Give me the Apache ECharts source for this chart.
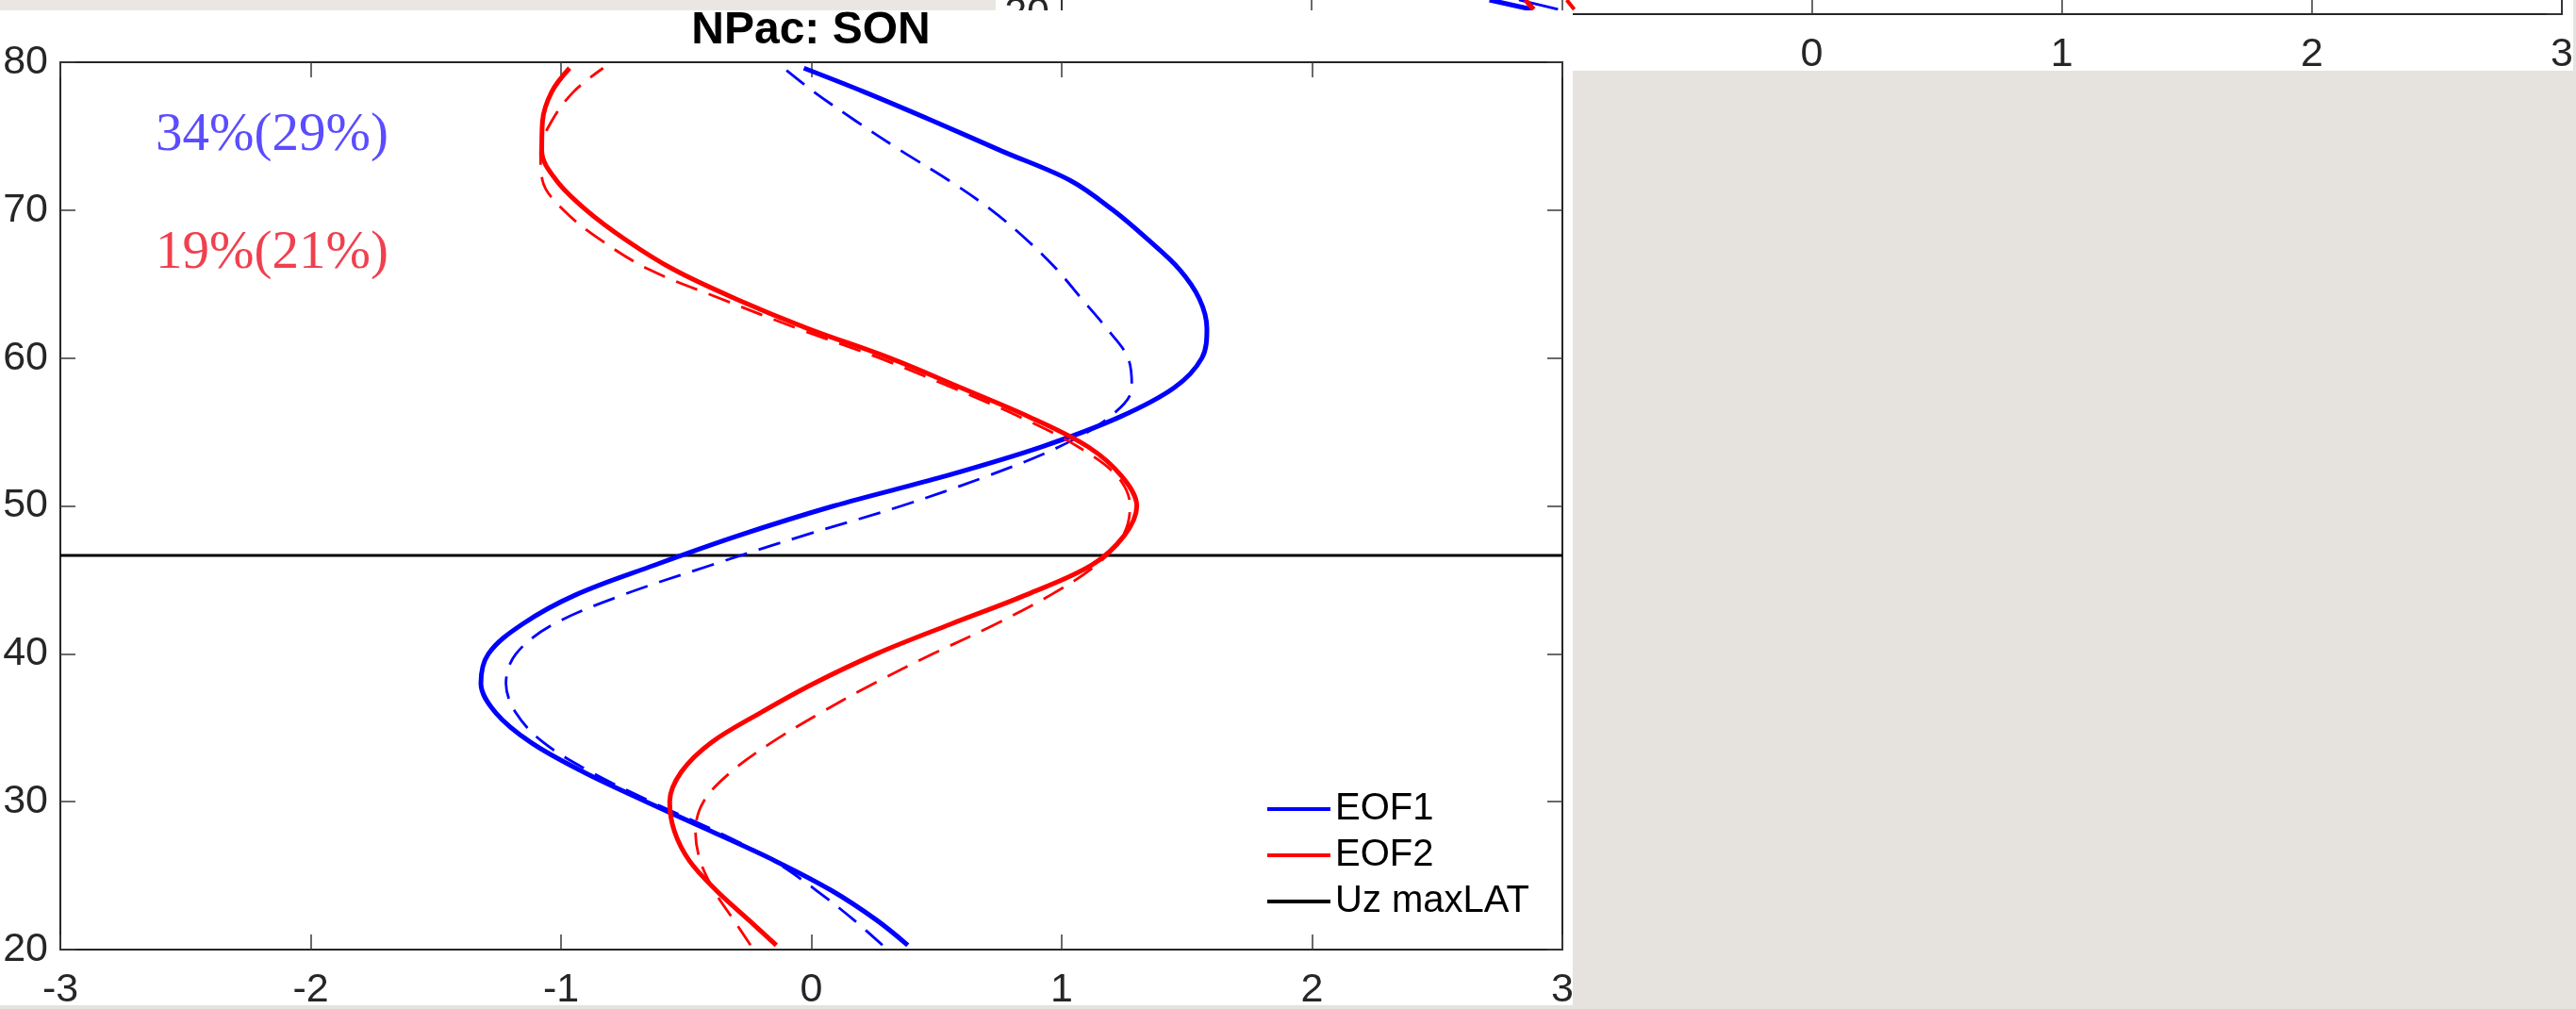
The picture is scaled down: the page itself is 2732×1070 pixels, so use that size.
<!DOCTYPE html>
<html><head><meta charset="utf-8">
<script src="https://cdn.jsdelivr.net/npm/echarts@6/dist/echarts.min.js"></script>
<style>html,body{margin:0;padding:0;background:#e6e3de;}#c{width:2732px;height:1070px;}</style>
</head><body><div id="c"></div>
<script>
// ---- data ----
const lat = [20.3,22,24,26,28,30,32,34,36,38,40,42,44,46,48,50,52,54,56,58,60,62,64,66,68,70,72,74,76,78,79.6];
const eof1Solid  = [0.385,0.26,0.08,-0.145,-0.40,-0.66,-0.91,-1.12,-1.26,-1.32,-1.29,-1.155,-0.94,-0.626,-0.29,0.09,0.53,0.92,1.23,1.45,1.56,1.58,1.55,1.47,1.345,1.205,1.035,0.76,0.49,0.21,-0.03];
const eof1Dashed = [0.284,0.17,0.02,-0.15,-0.38,-0.64,-0.88,-1.07,-1.18,-1.22,-1.18,-1.03,-0.75,-0.40,-0.03,0.36,0.70,0.99,1.19,1.28,1.265,1.18,1.08,0.98,0.86,0.72,0.55,0.36,0.18,0.01,-0.11];
const eof2Solid  = [-0.14,-0.25,-0.38,-0.487,-0.547,-0.566,-0.52,-0.40,-0.205,0.01,0.26,0.555,0.86,1.12,1.25,1.30,1.24,1.105,0.873,0.596,0.313,-0.015,-0.302,-0.552,-0.742,-0.899,-1.018,-1.077,-1.074,-1.037,-0.966];
const eof2Dashed = [-0.243,-0.31,-0.389,-0.444,-0.463,-0.431,-0.322,-0.159,0.036,0.25,0.486,0.735,0.958,1.138,1.245,1.273,1.222,1.065,0.835,0.562,0.272,-0.056,-0.36,-0.65,-0.843,-0.99,-1.074,-1.082,-1.038,-0.95,-0.832];
const uzMaxLat = 46.65;
const xRange = [-3, 3];
const yRange = [20, 80];
const xStep = 1, yStep = 10;
const legendNames = ['EOF1','EOF2','Uz maxLAT'];
const titleText = 'NPac: SON';
const varText = ['34%(29%)', '19%(21%)'];
// fragments of the neighbouring (cropped) panel visible at the top edge
const p2Lat = [20.96, 20.32];
const p2BlueSolid = [-1.289, -1.119];
const p2BlueDashed = [-1.171, -1.015];
const p2RedSolid = [-1.146, -1.112];
const p2RedOther = [-0.98, -0.95];

const FONT = "'Liberation Sans', Arial, Helvetica, sans-serif";
const pairs = (vals, lats) => vals.map((v, i) => [v, lats[i]]);

function xAx(grid, pos, showLabel, z, fmt) {
  return {gridIndex: grid, type: 'value', min: xRange[0], max: xRange[1], interval: xStep, position: pos, z: z,
    axisLine: {show: true, onZero: false, lineStyle: {color: '#262626', width: 2}},
    axisTick: {show: true, inside: true, length: 16, lineStyle: {color: '#3a3a3a', width: 1.5}},
    axisLabel: {show: showLabel, fontSize: 43, color: '#262626', margin: 22, fontFamily: FONT, formatter: fmt},
    splitLine: {show: false}};
}
function yAx(grid, pos, showLabel, z) {
  return {gridIndex: grid, type: 'value', min: yRange[0], max: yRange[1], interval: yStep, position: pos, z: z,
    axisLine: {show: true, onZero: false, lineStyle: {color: '#262626', width: 2}},
    axisTick: {show: true, inside: true, length: 16, lineStyle: {color: '#3a3a3a', width: 1.5}},
    axisLabel: {show: showLabel, fontSize: 43, color: '#262626', margin: 13, fontFamily: FONT},
    splitLine: {show: false}};
}
function line(name, data, color, width, dashed, xi, yi, z, smooth) {
  return {name: name, type: 'line', xAxisIndex: xi, yAxisIndex: yi, data: data,
    smooth: smooth, symbol: 'none', showSymbol: false, z: z, silent: true,
    lineStyle: {color: color, width: width, type: dashed ? [24, 13] : 'solid'},
    itemStyle: {color: color}};
}
const plain = v => String(v);
const hiddenNeg = v => (v < 0 ? '' : String(v));

const chart = echarts.init(document.getElementById('c'), null, {renderer: 'canvas'});
chart.setOption({
  animation: false,
  backgroundColor: '#e6e3de',
  title: {text: titleText, left: 860, top: 9, padding: 0, textAlign: 'center', z: 14,
    textStyle: {fontSize: 48, fontWeight: 'bold', color: '#000', fontFamily: FONT}},
  legend: {data: legendNames, orient: 'vertical', left: 1344, top: 836, padding: 0, icon: 'rect',
    itemWidth: 67, itemHeight: 4, itemGap: 5, selectedMode: false, z: 14,
    textStyle: {fontSize: 40, lineHeight: 44, color: '#000', fontFamily: FONT}},
  grid: [
    {left: 64, top: 66, width: 1593, height: 941, outerBoundsMode: 'none', containLabel: false},
    {left: 1126, top: -926, width: 1591, height: 941, outerBoundsMode: 'none', containLabel: false}
  ],
  xAxis: [xAx(0, 'bottom', true, 10, plain), xAx(0, 'top', false, 10, plain), xAx(1, 'bottom', true, 2, hiddenNeg), xAx(1, 'top', false, 2, plain)],
  yAxis: [yAx(0, 'left', true, 10), yAx(0, 'right', false, 10), yAx(1, 'left', true, 2), yAx(1, 'right', false, 2)],
  graphic: [
    {type: 'rect', shape: {x: 0, y: 0, width: 1056, height: 11}, style: {fill: '#eae7e3'}, z: 1},
    {type: 'rect', shape: {x: 1056, y: 0, width: 1673, height: 75}, style: {fill: '#ffffff'}, z: 1},
    {type: 'rect', shape: {x: 0, y: 11, width: 1668, height: 1055}, style: {fill: '#ffffff'}, z: 5},
    {type: 'text', x: 165, y: 144, z: 14, style: {text: varText[0], fill: '#5b4dff', font: "57px 'Liberation Serif', 'Times New Roman', serif", textVerticalAlign: 'middle', verticalAlign: 'middle'}},
    {type: 'text', x: 165, y: 269, z: 14, style: {text: varText[1], fill: '#f0404f', font: "57px 'Liberation Serif', 'Times New Roman', serif", textVerticalAlign: 'middle', verticalAlign: 'middle'}}
  ],
  series: [
    line('EOF1', pairs(eof1Solid, lat), '#0000ff', 5, false, 0, 0, 12, 0.35),
    line('EOF1 (other)', pairs(eof1Dashed, lat), '#0000ff', 2.8, true, 0, 0, 12, 0.35),
    line('EOF2', pairs(eof2Solid, lat), '#ff0000', 5, false, 0, 0, 12, 0.35),
    line('EOF2 (other)', pairs(eof2Dashed, lat), '#ff0000', 2.8, true, 0, 0, 12, 0.35),
    line('Uz maxLAT', [[xRange[0], uzMaxLat], [xRange[1], uzMaxLat]], '#000000', 3, false, 0, 0, 11, false),
    line('p2 blue', pairs(p2BlueSolid, p2Lat), '#0000ff', 5, false, 2, 2, 3, false),
    line('p2 blue dashed', pairs(p2BlueDashed, p2Lat), '#0000ff', 2.8, false, 2, 2, 3, false),
    line('p2 red', pairs(p2RedSolid, p2Lat), '#ff0000', 5, false, 2, 2, 3, false),
    line('p2 red 2', pairs(p2RedOther, p2Lat), '#ff0000', 4, false, 2, 2, 3, false)
  ]
});
</script></body></html>
